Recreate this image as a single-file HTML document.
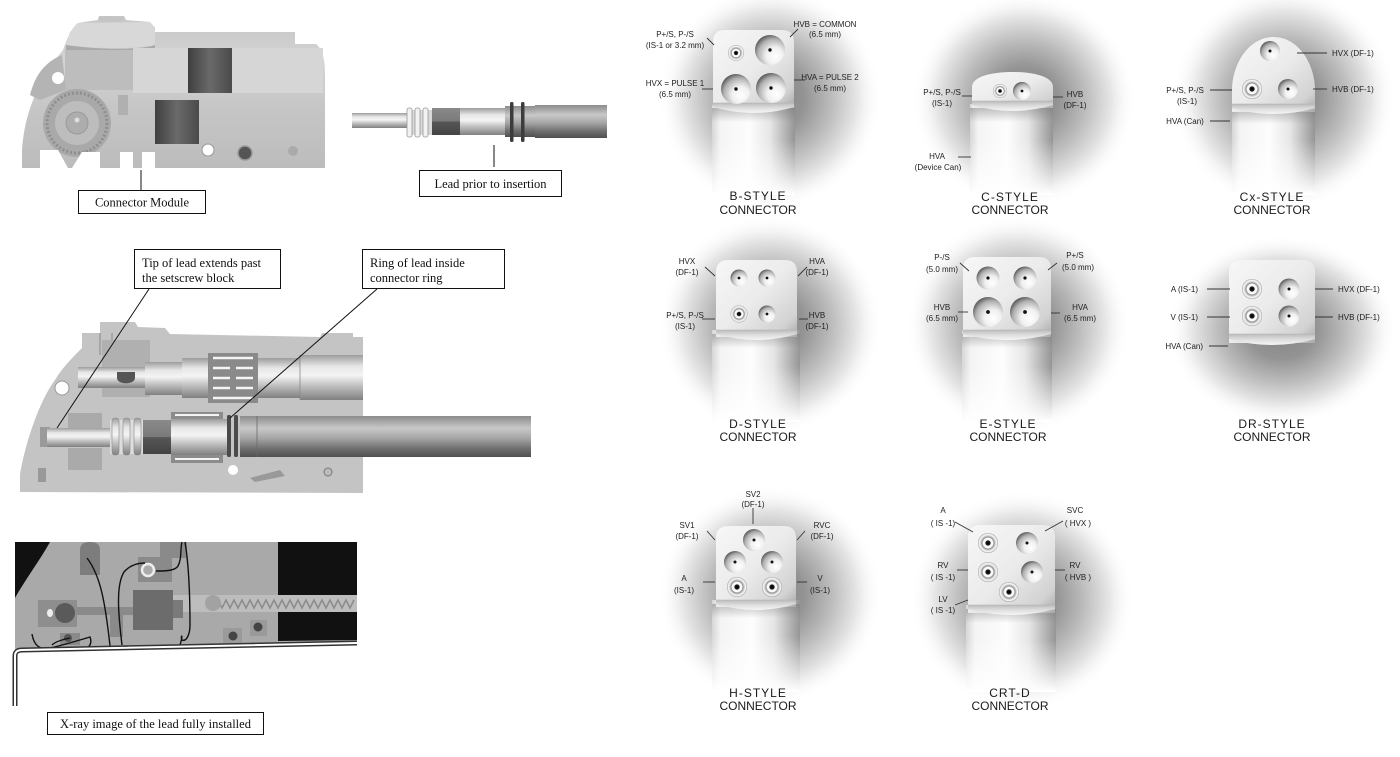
<!DOCTYPE html>
<html><head><meta charset="utf-8"><style>
html,body{margin:0;padding:0;background:#fff;}
svg{display:block}
.lb{font-family:"Liberation Sans",Arial,sans-serif;font-size:8px;fill:#222;}
.tt{font-family:"Liberation Sans",Arial,sans-serif;font-size:12px;fill:#1a1a1a;}
.sf{font-family:"Liberation Serif","Times New Roman",serif;font-size:12.5px;fill:#111;}
</style></head><body>
<svg width="1400" height="757" viewBox="0 0 1400 757" xmlns="http://www.w3.org/2000/svg">
<defs>
<radialGradient id="halo"><stop offset="0" stop-color="#858585"/><stop offset="0.3" stop-color="#939393"/><stop offset="0.55" stop-color="#bcbcbc"/><stop offset="0.78" stop-color="#e6e6e6"/><stop offset="1" stop-color="#fff" stop-opacity="0"/></radialGradient>
<linearGradient id="shaft" x1="0" y1="0" x2="1" y2="0"><stop offset="0" stop-color="#d6d6d6"/><stop offset="0.1" stop-color="#f4f4f4"/><stop offset="0.45" stop-color="#fdfdfd"/><stop offset="0.7" stop-color="#e6e6e6"/><stop offset="0.9" stop-color="#b0b0b0"/><stop offset="1" stop-color="#959595"/></linearGradient>
<linearGradient id="fade" x1="0" y1="0" x2="0" y2="1"><stop offset="0" stop-color="#fff" stop-opacity="0"/><stop offset="1" stop-color="#fff" stop-opacity="1"/></linearGradient>
<linearGradient id="topsh" x1="0" y1="0" x2="0" y2="1"><stop offset="0" stop-color="#777" stop-opacity="0.45"/><stop offset="1" stop-color="#777" stop-opacity="0"/></linearGradient>
<linearGradient id="head" x1="0" y1="0" x2="1" y2="1"><stop offset="0" stop-color="#f7f7f7"/><stop offset="0.5" stop-color="#ebebeb"/><stop offset="0.85" stop-color="#d2d2d2"/><stop offset="1" stop-color="#a8a8a8"/></linearGradient>
<linearGradient id="lip" x1="0" y1="0" x2="0" y2="1"><stop offset="0" stop-color="#bcbcbc"/><stop offset="0.5" stop-color="#dedede"/><stop offset="1" stop-color="#f6f6f6"/></linearGradient>
<radialGradient id="hl" cx="0.62" cy="0.66" r="0.72" fx="0.68" fy="0.72"><stop offset="0" stop-color="#fff"/><stop offset="0.4" stop-color="#f0f0f0"/><stop offset="0.75" stop-color="#b0b0b0"/><stop offset="1" stop-color="#4a4a4a"/></radialGradient>
<radialGradient id="is"><stop offset="0" stop-color="#000"/><stop offset="0.22" stop-color="#1a1a1a"/><stop offset="0.3" stop-color="#f4f4f4"/><stop offset="0.48" stop-color="#fff"/><stop offset="0.6" stop-color="#8e8e8e"/><stop offset="0.7" stop-color="#c8c8c8"/><stop offset="0.85" stop-color="#fafafa"/><stop offset="0.95" stop-color="#d0d0d0"/><stop offset="1" stop-color="#8a8a8a"/></radialGradient>
<linearGradient id="mod" x1="0" y1="0" x2="0" y2="1"><stop offset="0" stop-color="#c6c6c6"/><stop offset="0.3" stop-color="#d4d4d4"/><stop offset="0.6" stop-color="#c6c6c6"/><stop offset="1" stop-color="#bcbcbc"/></linearGradient>
<linearGradient id="cyl" x1="0" y1="0" x2="0" y2="1"><stop offset="0" stop-color="#9c9c9c"/><stop offset="0.25" stop-color="#e6e6e6"/><stop offset="0.45" stop-color="#f4f4f4"/><stop offset="0.7" stop-color="#bdbdbd"/><stop offset="1" stop-color="#808080"/></linearGradient>
<linearGradient id="cylD" x1="0" y1="0" x2="0" y2="1"><stop offset="0" stop-color="#8c8c8c"/><stop offset="0.3" stop-color="#c8c8c8"/><stop offset="0.55" stop-color="#a4a4a4"/><stop offset="0.8" stop-color="#6e6e6e"/><stop offset="1" stop-color="#505050"/></linearGradient>
<linearGradient id="dk" x1="0" y1="0" x2="1" y2="0"><stop offset="0" stop-color="#3f3f3f"/><stop offset="0.5" stop-color="#6a6a6a"/><stop offset="1" stop-color="#4a4a4a"/></linearGradient>
<linearGradient id="band" x1="0" y1="0" x2="0" y2="1"><stop offset="0" stop-color="#8a8a8a"/><stop offset="0.5" stop-color="#7a7a7a"/><stop offset="0.51" stop-color="#555"/><stop offset="1" stop-color="#444"/></linearGradient>
</defs>

<!-- ============ LEFT: Connector module ============ -->
<path d="M22,168 L22,150 C24,115 38,80 63,50 L66,42 C70,32 74,26 78,23 L98,20 L99,16 L124,16 L126,20 L150,22 L155,28 L155,32 L295,32 L295,44 L316,44 C323,50 325,60 325,75 L325,168 Z" fill="url(#mod)"/>
<path d="M78,23 L150,22 L155,30 L155,45 C140,49 100,49 66,45 L70,32 Z" fill="#d8d8d8"/>
<ellipse cx="111" cy="19" rx="13" ry="3" fill="#c4c4c4"/>
<path d="M66,45 C100,50 140,50 155,45 L155,50 L66,50 Z" fill="#a9a9a9"/>
<rect x="65" y="50" width="68" height="40" fill="#bdbdbd"/>
<rect x="133" y="48" width="190" height="45" fill="#d6d6d6"/>
<path d="M30,95 C35,75 45,62 62,55 L66,90 L40,100 Z" fill="#b4b4b4"/>
<circle cx="58" cy="78" r="6" fill="#fff"/>
<rect x="188" y="48" width="44" height="45" fill="url(#dk)"/>
<rect x="155" y="100" width="44" height="44" fill="url(#dk)"/>
<circle cx="77" cy="123" r="34" fill="#a9a9a9"/>
<circle cx="77" cy="123" r="30" fill="none" stroke="#8e8e8e" stroke-width="3" stroke-dasharray="2 2"/>
<circle cx="77" cy="123" r="22" fill="#bdbdbd"/>
<circle cx="77" cy="123" r="11" fill="#adadad" stroke="#999" stroke-width="1"/>
<circle cx="77" cy="120" r="2.5" fill="#ddd"/>
<path d="M40,150 L58,150 L68,168 L40,168 Z" fill="#fff"/>
<path d="M72,168 L82,152 L100,152 L100,168 Z" fill="#fff"/>
<rect x="120" y="152" width="13" height="16" fill="#fff"/>
<rect x="142" y="152" width="13" height="16" fill="#fff"/>
<circle cx="208" cy="150" r="6" fill="#fff" stroke="#999" stroke-width="1"/>
<circle cx="245" cy="153" r="7" fill="#555" stroke="#999" stroke-width="1.5"/>
<circle cx="293" cy="151" r="5" fill="#aaa"/>
<rect x="118" y="95" width="10" height="20" fill="#b0b0b0"/>
<line x1="141" y1="170" x2="141" y2="190" stroke="#111" stroke-width="1"/>
<rect x="78.5" y="190.5" width="127" height="23" fill="#fff" stroke="#111" stroke-width="1"/>
<text class="sf" x="142" y="206.5" text-anchor="middle">Connector Module</text>

<!-- Lead prior to insertion -->
<rect x="352" y="113" width="56" height="15" fill="url(#cyl)"/>
<rect x="407" y="110" width="26" height="25" fill="#d8d8d8"/>
<rect x="407" y="108" width="5" height="29" rx="2" fill="#f2f2f2" stroke="#999" stroke-width="0.8"/>
<rect x="415" y="108" width="5" height="29" rx="2" fill="#f2f2f2" stroke="#999" stroke-width="0.8"/>
<rect x="423" y="108" width="5" height="29" rx="2" fill="#f2f2f2" stroke="#999" stroke-width="0.8"/>
<rect x="432" y="108" width="28" height="27" fill="url(#band)"/>
<rect x="460" y="108" width="46" height="27" fill="url(#cyl)"/>
<rect x="505" y="106" width="31" height="31" fill="url(#cylD)"/>
<rect x="510" y="102" width="3.5" height="40" rx="1.5" fill="#3c3c3c"/>
<rect x="521" y="102" width="3.5" height="40" rx="1.5" fill="#3c3c3c"/>
<rect x="535" y="105" width="72" height="33" fill="url(#cylD)"/>
<line x1="494" y1="145" x2="494" y2="167" stroke="#111" stroke-width="1"/>
<rect x="419.5" y="170.5" width="142" height="26" fill="#fff" stroke="#111" stroke-width="1"/>
<text class="sf" x="490.5" y="188" text-anchor="middle">Lead prior to insertion</text>

<!-- ============ Cross-section ============ -->
<path d="M20,492 L20,474 C26,440 40,400 55,380 C62,368 72,358 82,348 L82,333 L100,333 L100,322 L135,322 L138,327 L165,328 L170,334 L320,337 L322,333 L353,333 L353,337 L363,337 L363,493 Z" fill="#c4c4c4"/>
<line x1="100" y1="333" x2="100" y2="355" stroke="#888" stroke-width="1"/>
<line x1="112" y1="333" x2="112" y2="355" stroke="#888" stroke-width="1"/>
<rect x="102" y="340" width="48" height="57" fill="#b0b0b0"/>
<circle cx="62" cy="388" r="7" fill="#fff" stroke="#999" stroke-width="1"/>
<rect x="78" y="367" width="68" height="21" fill="url(#cyl)"/>
<path d="M117,372 L135,372 L135,378 C135,385 117,385 117,378 Z" fill="#555"/>
<rect x="145" y="362" width="38" height="33" fill="url(#cyl)"/>
<rect x="182" y="358" width="27" height="40" fill="url(#cyl)"/>
<rect x="208" y="353" width="50" height="50" fill="#8a8a8a"/>
<g stroke="#f4f4f4" stroke-width="2.5">
<line x1="213" y1="358" x2="253" y2="358"/>
<line x1="213" y1="368" x2="230" y2="368"/><line x1="236" y1="368" x2="253" y2="368"/>
<line x1="213" y1="378" x2="230" y2="378"/><line x1="236" y1="378" x2="253" y2="378"/>
<line x1="213" y1="388" x2="230" y2="388"/><line x1="236" y1="388" x2="253" y2="388"/>
<line x1="213" y1="398" x2="253" y2="398"/>
</g>
<rect x="258" y="358" width="42" height="40" fill="url(#cyl)"/>
<rect x="300" y="355" width="63" height="45" fill="url(#cyl)"/>
<line x1="300" y1="355" x2="300" y2="400" stroke="#888" stroke-width="0.8"/>
<rect x="68" y="413" width="34" height="15" fill="#aaa"/>
<rect x="68" y="448" width="34" height="22" fill="#aaa"/>
<rect x="40" y="427" width="10" height="20" fill="#9a9a9a"/>
<rect x="47" y="428" width="63" height="19" fill="url(#cyl)"/>
<rect x="110" y="420" width="33" height="34" fill="#ddd"/>
<rect x="112" y="418" width="7" height="37" rx="3" fill="url(#cyl)" stroke="#888" stroke-width="0.6"/>
<rect x="123" y="418" width="7" height="37" rx="3" fill="url(#cyl)" stroke="#888" stroke-width="0.6"/>
<rect x="134" y="418" width="7" height="37" rx="3" fill="url(#cyl)" stroke="#888" stroke-width="0.6"/>
<rect x="143" y="420" width="28" height="34" fill="url(#band)"/>
<rect x="171" y="412" width="52" height="51" fill="#8c8c8c"/>
<rect x="171" y="419" width="56" height="36" fill="url(#cyl)"/>
<g stroke="#f4f4f4" stroke-width="2"><line x1="175" y1="415" x2="219" y2="415"/><line x1="175" y1="459" x2="219" y2="459"/></g>
<rect x="227" y="415" width="4" height="42" rx="1.5" fill="#4a4a4a"/>
<rect x="234" y="415" width="4" height="42" rx="1.5" fill="#4a4a4a"/>
<rect x="240" y="416" width="291" height="41" fill="url(#cylD)"/>
<line x1="257" y1="416" x2="257" y2="457" stroke="#6a6a6a" stroke-width="0.8"/>
<circle cx="233" cy="470" r="5" fill="#fff"/>
<circle cx="328" cy="472" r="4" fill="#bbb" stroke="#777" stroke-width="1"/>
<path d="M250,478 L280,470 L285,476 L255,482 Z" fill="#999"/>
<rect x="38" y="468" width="8" height="14" fill="#999"/>
<line x1="149" y1="289" x2="57" y2="428" stroke="#111" stroke-width="1"/>
<line x1="377" y1="289" x2="230" y2="418" stroke="#111" stroke-width="1"/>
<rect x="134.5" y="249.5" width="146" height="39" fill="#fff" stroke="#111" stroke-width="1"/>
<text class="sf" x="142" y="267">Tip of lead extends past</text>
<text class="sf" x="142" y="282">the setscrew block</text>
<rect x="362.5" y="249.5" width="142" height="39" fill="#fff" stroke="#111" stroke-width="1"/>
<text class="sf" x="370" y="267">Ring of lead inside</text>
<text class="sf" x="370" y="282">connector ring</text>

<!-- ============ X-ray ============ -->
<path d="M15,542 L357,542 L357,642 L15,650 Z" fill="#a9a9a9"/>
<path d="M15,542 L50,542 C40,560 25,580 15,598 Z" fill="#111"/>
<rect x="278" y="542" width="79" height="53" fill="#111"/>
<path d="M278,612 L357,612 L357,640 L278,641 Z" fill="#111"/>
<rect x="38" y="607" width="100" height="8" fill="#8a8a8a"/>
<rect x="173" y="595" width="184" height="17" fill="#bdbdbd"/>
<polyline points="210,600 214,608 218,600 222,608 226,600 230,608 234,600 238,608 242,600 246,608 250,600 254,608 258,600 262,608 266,600 270,608 274,600 278,608 282,600 286,608 290,600 294,608 298,600 302,608 306,600 310,608 314,600 318,608 322,600 326,608 330,600 334,608 338,600 342,608 346,600 350,608 354,600" fill="none" stroke="#8a8a8a" stroke-width="1.5"/>
<circle cx="213" cy="603" r="8" fill="#a2a2a2"/>
<path d="M80,550 Q80,542 90,542 Q100,542 100,550 L100,575 L80,575 Z" fill="#7d7d7d"/>
<rect x="138" y="557" width="34" height="25" fill="#8a8a8a"/>
<circle cx="148" cy="570" r="6" fill="#aaa" stroke="#eee" stroke-width="2.5"/>
<rect x="160" y="542" width="27" height="16" fill="#8a8a8a"/>
<rect x="133" y="590" width="40" height="40" fill="#6c6c6c"/>
<rect x="173" y="600" width="10" height="18" fill="#7a7a7a"/>
<rect x="110" y="610" width="13" height="27" fill="#8a8a8a"/>
<rect x="38" y="600" width="39" height="27" fill="#8e8e8e"/>
<circle cx="65" cy="613" r="10" fill="#5a5a5a"/>
<ellipse cx="50" cy="613" rx="3" ry="4" fill="#eee"/>
<rect x="223" y="628" width="19" height="15" fill="#9a9a9a"/>
<circle cx="233" cy="636" r="4.5" fill="#444"/>
<rect x="250" y="620" width="17" height="16" fill="#9a9a9a"/>
<circle cx="258" cy="627" r="4.5" fill="#444"/>
<rect x="60" y="633" width="20" height="12" fill="#8a8a8a"/>
<circle cx="68" cy="638" r="4" fill="#555"/>
<g fill="none" stroke="#111" stroke-width="1.4">
<path d="M87,558 C100,575 105,600 110,646"/>
<path d="M122,645 C118,612 116,585 124,572 C130,565 138,563 145,563"/>
<path d="M156,571 C165,571 175,571 178,566 C182,558 180,550 182,542"/>
<path d="M185,542 C188,560 190,590 190,625 C190,635 186,642 182,640 C180,636 184,632 180,645"/>
<path d="M32,634 C34,646 40,650 50,648 C60,646 80,640 90,637 C92,642 90,646 88,647"/>
<path d="M52,645 C55,642 60,640 70,638"/>
</g>
<path d="M15,706 L15,656 Q15,650 22,650 L357,643" fill="none" stroke="#333" stroke-width="5"/>
<path d="M15,706 L15,656 Q15,650 22,650 L357,643" fill="none" stroke="#fff" stroke-width="2"/>
<rect x="47.5" y="712.5" width="216" height="22" fill="#fff" stroke="#111" stroke-width="1"/>
<text class="sf" x="155.5" y="728" text-anchor="middle">X-ray image of the lead fully installed</text>

<!-- ============ RIGHT: connectors ============ -->
<!-- B -->
<ellipse cx="770" cy="98" rx="112" ry="112" fill="url(#halo)"/>
<rect x="712" y="105" width="83" height="88" fill="url(#shaft)"/>
<rect x="712" y="108" width="83" height="14" fill="url(#topsh)"/>
<rect x="712" y="140" width="83" height="55" fill="url(#fade)"/>
<path d="M713,42 Q713,30 725,30 L782,30 Q794,30 794,42 L794,108 L713,108 Z" fill="url(#head)"/>
<path d="M713,103 L794,103 L794,107 Q753.5,119 713,107 Z" fill="url(#lip)"/>
<line x1="713" y1="103" x2="794" y2="103" stroke="#b0b0b0" stroke-width="0.6"/>
<circle cx="736" cy="53" r="8" fill="url(#is)"/>
<circle cx="770" cy="50" r="15" fill="url(#hl)"/><circle cx="770" cy="50" r="1.7" fill="#111"/>
<circle cx="736" cy="89" r="15" fill="url(#hl)"/><circle cx="736" cy="89" r="1.7" fill="#111"/>
<circle cx="771" cy="88" r="15" fill="url(#hl)"/><circle cx="771" cy="88" r="1.7" fill="#111"/>
<g stroke="#333" stroke-width="0.9">
<line x1="707" y1="38" x2="714" y2="45"/><line x1="790" y1="37" x2="798" y2="29"/>
<line x1="702" y1="89" x2="713" y2="89"/><line x1="794" y1="80" x2="805" y2="80"/>
</g>
<text class="lb" x="675" y="37" text-anchor="middle">P+/S, P-/S</text>
<text class="lb" x="675" y="48" text-anchor="middle">(IS-1 or 3.2 mm)</text>
<text class="lb" x="825" y="27" text-anchor="middle">HVB = COMMON</text>
<text class="lb" x="825" y="37" text-anchor="middle">(6.5 mm)</text>
<text class="lb" x="675" y="86" text-anchor="middle">HVX = PULSE 1</text>
<text class="lb" x="675" y="97" text-anchor="middle">(6.5 mm)</text>
<text class="lb" x="830" y="80" text-anchor="middle">HVA = PULSE 2</text>
<text class="lb" x="830" y="91" text-anchor="middle">(6.5 mm)</text>
<text class="tt" x="758" y="200" text-anchor="middle" letter-spacing="1">B-STYLE</text>
<text class="tt" x="758" y="214" text-anchor="middle">CONNECTOR</text>

<!-- C -->
<ellipse cx="1024" cy="100" rx="112" ry="108" fill="url(#halo)"/>
<rect x="970" y="104" width="83" height="89" fill="url(#shaft)"/>
<rect x="970" y="108" width="83" height="14" fill="url(#topsh)"/>
<rect x="970" y="140" width="83" height="55" fill="url(#fade)"/>
<path d="M972,108 L972,87 C972,77 990,72 1012.5,72 C1035,72 1053,77 1053,87 L1053,108 Z" fill="url(#head)"/>
<path d="M972,101 L1053,101 L1053,105 Q1012.5,117 972,105 Z" fill="url(#lip)"/>
<line x1="972" y1="101" x2="1053" y2="101" stroke="#b0b0b0" stroke-width="0.6"/>
<circle cx="1000" cy="91" r="7" fill="url(#is)"/>
<circle cx="1022" cy="91" r="9" fill="url(#hl)"/><circle cx="1022" cy="91" r="1.4" fill="#111"/>
<g stroke="#333" stroke-width="0.9">
<line x1="962" y1="96" x2="972" y2="96"/><line x1="1053" y1="97" x2="1063" y2="97"/>
<line x1="958" y1="157" x2="971" y2="157"/>
</g>
<text class="lb" x="942" y="95" text-anchor="middle">P+/S, P-/S</text>
<text class="lb" x="942" y="106" text-anchor="middle">(IS-1)</text>
<text class="lb" x="1075" y="97" text-anchor="middle">HVB</text>
<text class="lb" x="1075" y="108" text-anchor="middle">(DF-1)</text>
<text class="lb" x="937" y="159" text-anchor="middle">HVA</text>
<text class="lb" x="938" y="170" text-anchor="middle">(Device Can)</text>
<text class="tt" x="1010" y="201" text-anchor="middle" letter-spacing="1">C-STYLE</text>
<text class="tt" x="1010" y="214" text-anchor="middle">CONNECTOR</text>

<!-- Cx -->
<ellipse cx="1284" cy="98" rx="112" ry="112" fill="url(#halo)"/>
<rect x="1232" y="106" width="83" height="87" fill="url(#shaft)"/>
<rect x="1232" y="110" width="83" height="14" fill="url(#topsh)"/>
<rect x="1232" y="140" width="83" height="55" fill="url(#fade)"/>
<path d="M1232,112 L1232,90 C1232,65 1248,37 1273.5,37 C1299,37 1315,65 1315,90 L1315,112 Z" fill="url(#head)"/>
<path d="M1232,104 L1315,104 L1315,108 Q1273.5,120 1232,108 Z" fill="url(#lip)"/>
<line x1="1232" y1="104" x2="1315" y2="104" stroke="#b0b0b0" stroke-width="0.6"/>
<circle cx="1270" cy="51" r="10" fill="url(#hl)"/><circle cx="1270" cy="51" r="1.5" fill="#111"/>
<circle cx="1252" cy="89" r="10" fill="url(#is)"/>
<circle cx="1288" cy="89" r="10" fill="url(#hl)"/><circle cx="1288" cy="89" r="1.5" fill="#111"/>
<g stroke="#333" stroke-width="0.9">
<line x1="1297" y1="53" x2="1327" y2="53"/><line x1="1313" y1="89" x2="1327" y2="89"/>
<line x1="1210" y1="90" x2="1232" y2="90"/><line x1="1210" y1="121" x2="1230" y2="121"/>
</g>
<text class="lb" x="1332" y="56">HVX  (DF-1)</text>
<text class="lb" x="1332" y="92">HVB  (DF-1)</text>
<text class="lb" x="1185" y="93" text-anchor="middle">P+/S, P-/S</text>
<text class="lb" x="1187" y="104" text-anchor="middle">(IS-1)</text>
<text class="lb" x="1185" y="124" text-anchor="middle">HVA (Can)</text>
<text class="tt" x="1272" y="201" text-anchor="middle" letter-spacing="1">Cx-STYLE</text>
<text class="tt" x="1272" y="214" text-anchor="middle">CONNECTOR</text>

<!-- D -->
<ellipse cx="770" cy="325" rx="112" ry="110" fill="url(#halo)"/>
<rect x="712" y="330" width="88" height="90" fill="url(#shaft)"/>
<rect x="712" y="334" width="88" height="14" fill="url(#topsh)"/>
<rect x="712" y="366" width="88" height="56" fill="url(#fade)"/>
<path d="M716,272 Q716,260 728,260 L785,260 Q797,260 797,272 L797,337 L716,337 Z" fill="url(#head)"/>
<path d="M716,330 L797,330 L797,334 Q756.5,346 716,334 Z" fill="url(#lip)"/>
<line x1="716" y1="330" x2="797" y2="330" stroke="#b0b0b0" stroke-width="0.6"/>
<circle cx="739" cy="278" r="8.5" fill="url(#hl)"/><circle cx="739" cy="278" r="1.4" fill="#111"/>
<circle cx="767" cy="278" r="8.5" fill="url(#hl)"/><circle cx="767" cy="278" r="1.4" fill="#111"/>
<circle cx="739" cy="314" r="8.5" fill="url(#is)"/>
<circle cx="767" cy="314" r="8.5" fill="url(#hl)"/><circle cx="767" cy="314" r="1.4" fill="#111"/>
<g stroke="#333" stroke-width="0.9">
<line x1="705" y1="267" x2="715" y2="276"/><line x1="798" y1="276" x2="807" y2="267"/>
<line x1="702" y1="319" x2="715" y2="319"/><line x1="799" y1="319" x2="808" y2="319"/>
</g>
<text class="lb" x="687" y="264" text-anchor="middle">HVX</text>
<text class="lb" x="687" y="275" text-anchor="middle">(DF-1)</text>
<text class="lb" x="817" y="264" text-anchor="middle">HVA</text>
<text class="lb" x="817" y="275" text-anchor="middle">(DF-1)</text>
<text class="lb" x="685" y="318" text-anchor="middle">P+/S, P-/S</text>
<text class="lb" x="685" y="329" text-anchor="middle">(IS-1)</text>
<text class="lb" x="817" y="318" text-anchor="middle">HVB</text>
<text class="lb" x="817" y="329" text-anchor="middle">(DF-1)</text>
<text class="tt" x="758" y="428" text-anchor="middle" letter-spacing="1">D-STYLE</text>
<text class="tt" x="758" y="441" text-anchor="middle">CONNECTOR</text>

<!-- E -->
<ellipse cx="1018" cy="325" rx="112" ry="110" fill="url(#halo)"/>
<rect x="962" y="330" width="90" height="90" fill="url(#shaft)"/>
<rect x="962" y="334" width="90" height="14" fill="url(#topsh)"/>
<rect x="962" y="366" width="90" height="56" fill="url(#fade)"/>
<path d="M963,269 Q963,257 975,257 L1039,257 Q1051,257 1051,269 L1051,337 L963,337 Z" fill="url(#head)"/>
<path d="M963,330 L1051,330 L1051,334 Q1007,346 963,334 Z" fill="url(#lip)"/>
<line x1="963" y1="330" x2="1051" y2="330" stroke="#b0b0b0" stroke-width="0.6"/>
<circle cx="988" cy="278" r="11.5" fill="url(#hl)"/><circle cx="988" cy="278" r="1.6" fill="#111"/>
<circle cx="1025" cy="278" r="11.5" fill="url(#hl)"/><circle cx="1025" cy="278" r="1.6" fill="#111"/>
<circle cx="988" cy="312" r="15" fill="url(#hl)"/><circle cx="988" cy="312" r="1.9" fill="#111"/>
<circle cx="1025" cy="312" r="15" fill="url(#hl)"/><circle cx="1025" cy="312" r="1.9" fill="#111"/>
<g stroke="#333" stroke-width="0.9">
<line x1="960" y1="263" x2="969" y2="271"/><line x1="1048" y1="270" x2="1057" y2="263"/>
<line x1="958" y1="312" x2="968" y2="312"/><line x1="1051" y1="313" x2="1060" y2="313"/>
</g>
<text class="lb" x="942" y="260" text-anchor="middle">P-/S</text>
<text class="lb" x="942" y="272" text-anchor="middle">(5.0 mm)</text>
<text class="lb" x="1075" y="258" text-anchor="middle">P+/S</text>
<text class="lb" x="1078" y="270" text-anchor="middle">(5.0 mm)</text>
<text class="lb" x="942" y="310" text-anchor="middle">HVB</text>
<text class="lb" x="942" y="321" text-anchor="middle">(6.5 mm)</text>
<text class="lb" x="1080" y="310" text-anchor="middle">HVA</text>
<text class="lb" x="1080" y="321" text-anchor="middle">(6.5 mm)</text>
<text class="tt" x="1008" y="428" text-anchor="middle" letter-spacing="1">E-STYLE</text>
<text class="tt" x="1008" y="441" text-anchor="middle">CONNECTOR</text>

<!-- DR -->
<ellipse cx="1282" cy="330" rx="115" ry="95" fill="url(#halo)"/>
<path d="M1229,272 Q1229,260 1241,260 L1303,260 Q1315,260 1315,272 L1315,343 L1229,343 Z" fill="url(#head)"/>
<path d="M1229,334 L1315,334 L1315,339 Q1272,351 1229,339 Z" fill="url(#lip)"/>
<line x1="1229" y1="334" x2="1315" y2="334" stroke="#b0b0b0" stroke-width="0.6"/>
<circle cx="1252" cy="289" r="10" fill="url(#is)"/>
<circle cx="1289" cy="289" r="10.5" fill="url(#hl)"/><circle cx="1289" cy="289" r="1.5" fill="#111"/>
<circle cx="1252" cy="316" r="10" fill="url(#is)"/>
<circle cx="1289" cy="316" r="10.5" fill="url(#hl)"/><circle cx="1289" cy="316" r="1.5" fill="#111"/>
<g stroke="#333" stroke-width="0.9">
<line x1="1207" y1="289" x2="1230" y2="289"/><line x1="1207" y1="317" x2="1230" y2="317"/>
<line x1="1209" y1="346" x2="1228" y2="346"/>
<line x1="1315" y1="289" x2="1333" y2="289"/><line x1="1315" y1="317" x2="1333" y2="317"/>
</g>
<text class="lb" x="1198" y="292" text-anchor="end">A  (IS-1)</text>
<text class="lb" x="1198" y="320" text-anchor="end">V  (IS-1)</text>
<text class="lb" x="1203" y="349" text-anchor="end">HVA (Can)</text>
<text class="lb" x="1338" y="292">HVX  (DF-1)</text>
<text class="lb" x="1338" y="320">HVB  (DF-1)</text>
<text class="tt" x="1272" y="428" text-anchor="middle" letter-spacing="1">DR-STYLE</text>
<text class="tt" x="1272" y="441" text-anchor="middle">CONNECTOR</text>

<!-- H -->
<ellipse cx="770" cy="595" rx="112" ry="110" fill="url(#halo)"/>
<rect x="712" y="600" width="88" height="90" fill="url(#shaft)"/>
<rect x="712" y="604" width="88" height="14" fill="url(#topsh)"/>
<rect x="712" y="636" width="88" height="56" fill="url(#fade)"/>
<path d="M716,538 Q716,526 728,526 L784,526 Q796,526 796,538 L796,607 L716,607 Z" fill="url(#head)"/>
<path d="M716,600 L796,600 L796,604 Q756,616 716,604 Z" fill="url(#lip)"/>
<line x1="716" y1="600" x2="796" y2="600" stroke="#b0b0b0" stroke-width="0.6"/>
<circle cx="754" cy="540" r="11" fill="url(#hl)"/><circle cx="754" cy="540" r="1.5" fill="#111"/>
<circle cx="735" cy="562" r="11" fill="url(#hl)"/><circle cx="735" cy="562" r="1.5" fill="#111"/>
<circle cx="772" cy="562" r="11" fill="url(#hl)"/><circle cx="772" cy="562" r="1.5" fill="#111"/>
<circle cx="737" cy="587" r="10" fill="url(#is)"/>
<circle cx="772" cy="587" r="10" fill="url(#is)"/>
<g stroke="#333" stroke-width="0.9">
<line x1="753" y1="508" x2="753" y2="524"/>
<line x1="707" y1="531" x2="715" y2="540"/><line x1="797" y1="540" x2="805" y2="531"/>
<line x1="703" y1="582" x2="715" y2="582"/><line x1="797" y1="582" x2="807" y2="582"/>
</g>
<text class="lb" x="753" y="497" text-anchor="middle">SV2</text>
<text class="lb" x="753" y="507" text-anchor="middle">(DF-1)</text>
<text class="lb" x="687" y="528" text-anchor="middle">SV1</text>
<text class="lb" x="687" y="539" text-anchor="middle">(DF-1)</text>
<text class="lb" x="822" y="528" text-anchor="middle">RVC</text>
<text class="lb" x="822" y="539" text-anchor="middle">(DF-1)</text>
<text class="lb" x="684" y="581" text-anchor="middle">A</text>
<text class="lb" x="684" y="593" text-anchor="middle">(IS-1)</text>
<text class="lb" x="820" y="581" text-anchor="middle">V</text>
<text class="lb" x="820" y="593" text-anchor="middle">(IS-1)</text>
<text class="tt" x="758" y="697" text-anchor="middle" letter-spacing="1">H-STYLE</text>
<text class="tt" x="758" y="710" text-anchor="middle">CONNECTOR</text>

<!-- CRT-D -->
<ellipse cx="1022" cy="600" rx="112" ry="110" fill="url(#halo)"/>
<rect x="966" y="605" width="90" height="85" fill="url(#shaft)"/>
<rect x="966" y="609" width="90" height="14" fill="url(#topsh)"/>
<rect x="966" y="640" width="90" height="52" fill="url(#fade)"/>
<path d="M968,537 Q968,525 980,525 L1043,525 Q1055,525 1055,537 L1055,613 L968,613 Z" fill="url(#head)"/>
<path d="M968,605 L1055,605 L1055,609 Q1011.5,621 968,609 Z" fill="url(#lip)"/>
<line x1="968" y1="605" x2="1055" y2="605" stroke="#b0b0b0" stroke-width="0.6"/>
<circle cx="988" cy="543" r="10" fill="url(#is)"/>
<circle cx="1027" cy="543" r="11" fill="url(#hl)"/><circle cx="1027" cy="543" r="1.5" fill="#111"/>
<circle cx="988" cy="572" r="10" fill="url(#is)"/>
<circle cx="1032" cy="572" r="11" fill="url(#hl)"/><circle cx="1032" cy="572" r="1.5" fill="#111"/>
<circle cx="1009" cy="592" r="10" fill="url(#is)"/>
<g stroke="#333" stroke-width="0.9">
<line x1="955" y1="522" x2="973" y2="532"/><line x1="1045" y1="531" x2="1063" y2="521"/>
<line x1="957" y1="570" x2="968" y2="570"/><line x1="1055" y1="570" x2="1065" y2="570"/>
<line x1="955" y1="605" x2="968" y2="600"/>
</g>
<text class="lb" x="943" y="513" text-anchor="middle">A</text>
<text class="lb" x="943" y="526" text-anchor="middle">( IS -1)</text>
<text class="lb" x="1075" y="513" text-anchor="middle">SVC</text>
<text class="lb" x="1078" y="526" text-anchor="middle">( HVX )</text>
<text class="lb" x="943" y="568" text-anchor="middle">RV</text>
<text class="lb" x="943" y="580" text-anchor="middle">( IS -1)</text>
<text class="lb" x="1075" y="568" text-anchor="middle">RV</text>
<text class="lb" x="1078" y="580" text-anchor="middle">( HVB )</text>
<text class="lb" x="943" y="602" text-anchor="middle">LV</text>
<text class="lb" x="943" y="613" text-anchor="middle">( IS -1)</text>
<text class="tt" x="1010" y="697" text-anchor="middle" letter-spacing="1">CRT-D</text>
<text class="tt" x="1010" y="710" text-anchor="middle">CONNECTOR</text>
</svg>
</body></html>
